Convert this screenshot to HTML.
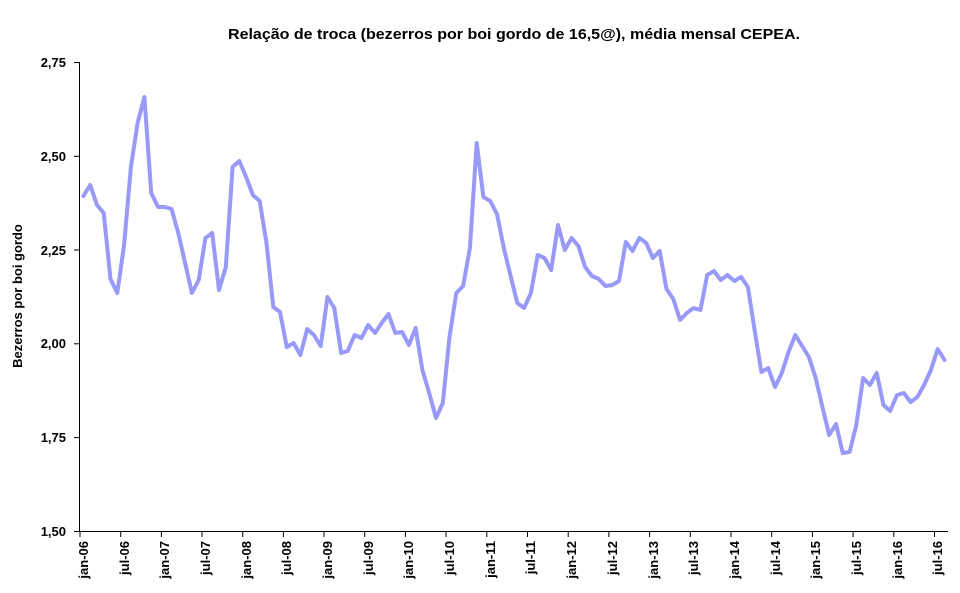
<!DOCTYPE html>
<html><head><meta charset="utf-8"><style>
html,body{margin:0;padding:0;background:#fff}
svg{display:block;font-family:"Liberation Sans",sans-serif}
</style></head><body>
<svg width="960" height="593" viewBox="0 0 960 593" xmlns="http://www.w3.org/2000/svg">
<rect width="960" height="593" fill="#fff"/>
<text x="228" y="39" textLength="572" lengthAdjust="spacingAndGlyphs" font-size="15" font-weight="bold">Relação de troca (bezerros por boi gordo de 16,5@), média mensal CEPEA.</text>
<text transform="translate(22,296) rotate(-90)" text-anchor="middle" font-size="13" font-weight="bold">Bezerros por boi gordo</text>
<g stroke="#000" stroke-width="1" fill="none">
<line x1="79.5" y1="62" x2="79.5" y2="531.5"/>
<line x1="79.5" y1="531.5" x2="948" y2="531.5"/>
<line x1="74" y1="62.5" x2="79.5" y2="62.5"/>
<line x1="74" y1="156.3" x2="79.5" y2="156.3"/>
<line x1="74" y1="250" x2="79.5" y2="250"/>
<line x1="74" y1="343.8" x2="79.5" y2="343.8"/>
<line x1="74" y1="437.6" x2="79.5" y2="437.6"/>
<line x1="74" y1="531.5" x2="79.5" y2="531.5"/>
</g>
<g font-size="13" font-weight="bold" text-anchor="end">
<text x="66" y="67">2,75</text>
<text x="66" y="161">2,50</text>
<text x="66" y="255">2,25</text>
<text x="66" y="348">2,00</text>
<text x="66" y="442">1,75</text>
<text x="66" y="536">1,50</text>
</g>
<g stroke="#000" stroke-width="1">
<line x1="80" y1="531" x2="80" y2="537"/><line x1="120.7" y1="531" x2="120.7" y2="537"/><line x1="161.4" y1="531" x2="161.4" y2="537"/><line x1="202" y1="531" x2="202" y2="537"/><line x1="242.7" y1="531" x2="242.7" y2="537"/><line x1="283.4" y1="531" x2="283.4" y2="537"/><line x1="324" y1="531" x2="324" y2="537"/><line x1="364.7" y1="531" x2="364.7" y2="537"/><line x1="405.4" y1="531" x2="405.4" y2="537"/><line x1="446" y1="531" x2="446" y2="537"/><line x1="486.8" y1="531" x2="486.8" y2="537"/><line x1="527.5" y1="531" x2="527.5" y2="537"/><line x1="568.2" y1="531" x2="568.2" y2="537"/><line x1="608.9" y1="531" x2="608.9" y2="537"/><line x1="649.6" y1="531" x2="649.6" y2="537"/><line x1="690.3" y1="531" x2="690.3" y2="537"/><line x1="731" y1="531" x2="731" y2="537"/><line x1="771.7" y1="531" x2="771.7" y2="537"/><line x1="812.4" y1="531" x2="812.4" y2="537"/><line x1="853.1" y1="531" x2="853.1" y2="537"/><line x1="893.8" y1="531" x2="893.8" y2="537"/><line x1="934.5" y1="531" x2="934.5" y2="537"/>
</g>
<g font-size="13" font-weight="bold" text-anchor="end">
<text transform="translate(88,541) rotate(-90)">jan-06</text>
<text transform="translate(129,541) rotate(-90)">jul-06</text>
<text transform="translate(169,541) rotate(-90)">jan-07</text>
<text transform="translate(210,541) rotate(-90)">jul-07</text>
<text transform="translate(251,541) rotate(-90)">jan-08</text>
<text transform="translate(291,541) rotate(-90)">jul-08</text>
<text transform="translate(332,541) rotate(-90)">jan-09</text>
<text transform="translate(373,541) rotate(-90)">jul-09</text>
<text transform="translate(413,541) rotate(-90)">jan-10</text>
<text transform="translate(454,541) rotate(-90)">jul-10</text>
<text transform="translate(495,541) rotate(-90)">jan-11</text>
<text transform="translate(535,541) rotate(-90)">jul-11</text>
<text transform="translate(576,541) rotate(-90)">jan-12</text>
<text transform="translate(617,541) rotate(-90)">jul-12</text>
<text transform="translate(658,541) rotate(-90)">jan-13</text>
<text transform="translate(698,541) rotate(-90)">jul-13</text>
<text transform="translate(739,541) rotate(-90)">jan-14</text>
<text transform="translate(780,541) rotate(-90)">jul-14</text>
<text transform="translate(820,541) rotate(-90)">jan-15</text>
<text transform="translate(861,541) rotate(-90)">jul-15</text>
<text transform="translate(902,541) rotate(-90)">jan-16</text>
<text transform="translate(942,541) rotate(-90)">jul-16</text>
</g>
<polyline fill="none" stroke="#9999f8" stroke-width="4" stroke-linejoin="round" stroke-linecap="round" points="
83.4,196 90.2,185 97,205 103.7,213 110.5,279 117.3,293 124.1,245 130.9,167 137.6,123 144.4,97 151.2,193 158,207 164.8,207 171.5,209 178.3,233 185.1,263 191.9,293 198.7,280 205.4,238 212.2,233 219,290 225.8,267 232.6,167 239.3,161 246.1,177 252.9,195 259.7,201 266.5,243 273.3,307 280,312 286.8,347 293.6,343 300.4,355 307.2,329 313.9,335 320.7,346 327.5,297 334.3,308 341.1,353 347.8,351 354.6,335 361.4,338 368.2,325 375,333 381.7,323 388.5,314 395.3,333 402.1,332 408.9,345 415.6,328 422.4,370 429.2,393 436,418 442.8,403 449.5,337 456.3,293 463.1,286 469.9,248 476.7,143 483.4,197 490.2,201 497,214 503.8,248 510.6,276 517.3,303 524.1,308 530.9,293 537.7,255 544.5,258 551.2,270 558,225 564.8,250 571.6,238 578.4,246 585.1,267 591.9,276 598.7,279 605.5,286 612.3,285 619,281 625.8,242 632.6,251 639.4,238 646.2,243 652.9,258 659.7,251 666.5,289 673.3,299 680.1,320 686.8,313 693.6,308 700.4,310 707.2,275 714,271 720.7,280 727.5,275 734.3,281 741.1,277 747.9,287 754.6,330 761.4,372 768.2,368 775,387 781.8,373 788.5,352 795.3,335 802.1,346 808.9,357 815.7,378 822.4,407 829.2,435 836,424 842.8,453 849.6,452 856.3,425 863.1,378 869.9,385 876.7,373 883.5,405 890.2,411 897,395 903.8,393 910.6,402 917.4,397 924.1,385 930.9,370 937.7,349 944.5,360"/>
</svg>
</body></html>
